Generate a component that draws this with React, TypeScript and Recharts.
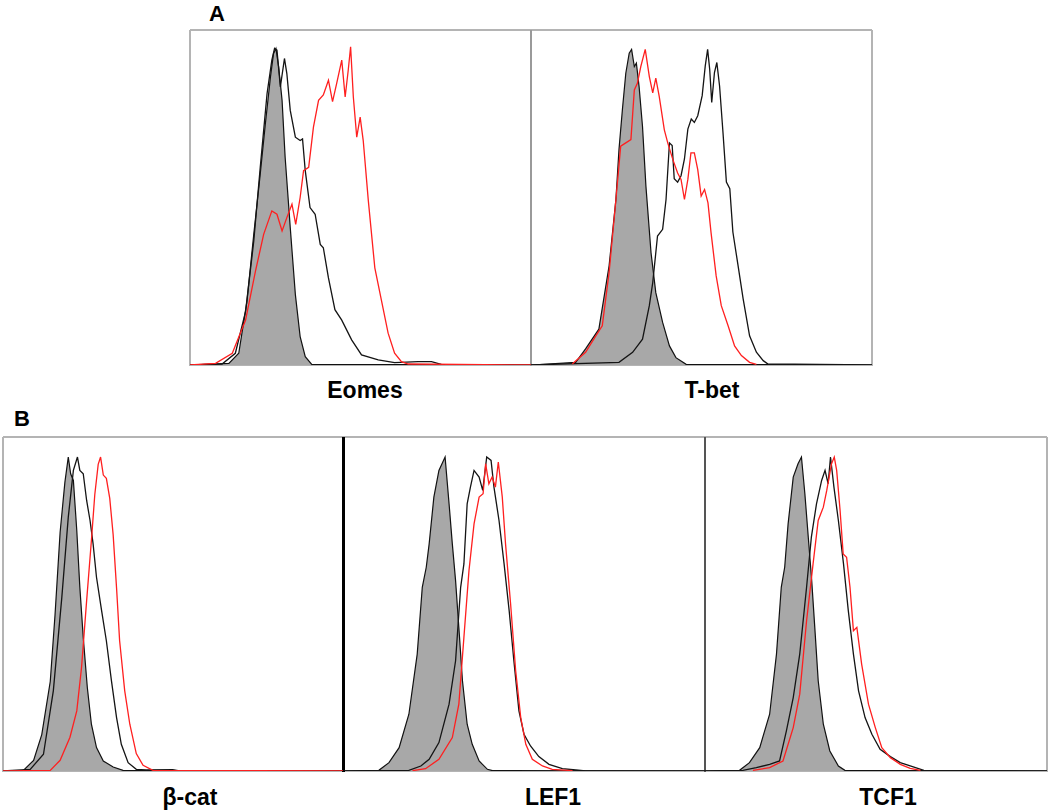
import React from 'react';
import { ComposedChart, Area, Line, XAxis, YAxis } from 'recharts';

type Pt = [number, number];

// ---- Panel A: Eomes ----
const eomesIso: Pt[] = [[11.4,0.5],[14.3,3.5],[16.7,19],[18.7,39],[20.6,57],[22.1,72],[23.6,86],[24.5,93],[25.2,94.5],[26,89],[27,79],[27.9,62],[29.4,41],[30.9,21],[32.3,8.5],[33.8,2.5],[35.7,0.2]];
const eomesBlack: Pt[] = [[9.4,0.3],[13.3,3.5],[16.3,16],[18.7,37],[20.6,59],[22.6,81],[24,91],[24.8,94.5],[25.5,94],[26.5,83],[27.7,91.5],[28.4,87],[29.4,76],[30.9,68],[32.3,67],[33,67.5],[33.8,58],[35.2,47],[36.7,45],[38.2,36],[39.1,35],[40.6,26],[42.5,16.5],[44.5,13.4],[47.4,7.5],[50.3,3],[55.2,1.5],[60,0.7],[66.9,1],[70.8,1],[73.7,0.2]];
const eomesRed: Pt[] = [[7.5,0.5],[12.4,3.5],[16.3,13.4],[19.2,28],[21.6,39],[24,46],[25.5,45],[27,40],[28.4,44],[29.9,48],[31,42],[32.3,50],[33.3,58],[34.8,59],[36.2,71],[37.7,79],[39.1,80.6],[40.6,85],[41.8,78.6],[43,84],[44.5,91],[45.5,80],[46.4,88],[47.1,95],[47.9,80],[48.9,68],[49.9,74],[50.8,67],[52.3,49],[54.2,29],[56.2,19],[58.1,9.5],[60,3.5],[62,1],[64,0.3]];

// ---- Panel A: T-bet ----
const tbetIso: Pt[] = [[13.1,0.8],[16,4.8],[19.9,10.7],[22.9,29.6],[24.9,49.4],[25.8,64.3],[26.8,76.2],[27.8,87.1],[28.8,93.1],[29.5,94.2],[30.3,89.1],[30.9,90.1],[31.7,83.1],[32.7,71.2],[33.7,53.4],[35.2,33.5],[36.6,21.6],[38.6,12.7],[40.6,5.7],[42.5,2.2],[45.5,0.2]];
const tbetBlack: Pt[] = [[25.8,0.8],[29.8,3.8],[32.7,7.7],[34.7,17.7],[35.7,24.6],[37.1,38.5],[38.6,40.5],[39.6,49.4],[40.6,66.3],[41.4,65.5],[42,55.6],[43,54.6],[44,56.5],[45,61.5],[46,70.4],[47,73.4],[47.9,72.4],[48.9,74.4],[50.2,80.4],[51.1,89.3],[51.8,94.2],[52.4,88.3],[53,78.4],[53.8,87.3],[54.5,90.3],[55.3,83.3],[56.3,69.4],[57.3,54.6],[58.3,52.6],[59.2,39.7],[60.7,29.8],[62.2,19.8],[64.1,8.7],[66.1,3.8],[68.1,1.3],[69.5,0.3]];
const tbetRed: Pt[] = [[12.1,0.3],[16,3.8],[19,8.7],[20.9,11.7],[22.9,27.6],[24.9,49.4],[26.3,65.3],[27.8,66.3],[29.3,67.3],[30.3,82.1],[31.2,84.1],[32.2,89.1],[33.5,94.2],[34.7,86.1],[35.7,81.2],[36.6,85.6],[37.6,80.2],[39.1,70.2],[40.1,66.3],[41.6,61.3],[43,57.3],[44,55.4],[45,49.4],[46,55.4],[46.9,63.3],[47.9,63.3],[48.9,58.3],[49.9,50.4],[50.9,52.4],[51.9,48.4],[52.8,39.5],[54.3,26.6],[55.8,17.7],[57.8,11.7],[59.7,5.7],[61.7,2.8],[64.1,0.8],[66.1,0.2]];

// ---- Panel B: beta-catenin ----
const bcatIso: Pt[] = [[6,0.2],[9,3.2],[11.4,10.9],[13.9,26.8],[15.3,46.7],[16.8,71.5],[18.2,86.4],[19.2,94],[19.9,89],[20.7,87],[21.7,72],[22.6,55],[23.6,40],[24.8,25],[26,14],[27.5,7],[29.5,3],[32.4,1.2],[35.3,0.2]];
const bcatBlack: Pt[] = [[8,0.5],[11.9,5],[14.8,24],[17.3,52],[19.2,76],[20.7,90],[21.9,94],[22.6,90],[23.6,89],[24.6,81],[25.6,75],[26.5,68],[27.5,58],[29,48],[30.4,39],[31.9,27],[33.4,16],[34.8,8],[36.8,2.5],[39.2,0.5],[42.1,0.3],[49.9,0.4],[51.9,0]];
const bcatRed: Pt[] = [[13.9,0.2],[16.8,3.2],[19.7,10.1],[21.7,18],[23.1,31],[24.6,51],[26,69],[27,82.8],[28,91.8],[28.7,94],[29.5,88.6],[30.4,87.6],[31.4,81.6],[32.4,70.7],[33.4,54.8],[34.3,39],[35.8,24],[37.3,14],[39.2,5.2],[41.2,1.7],[44.1,0.2]];

// ---- Panel B: LEF1 ----
const lef1Iso: Pt[] = [[9.9,0.2],[12.7,2.5],[15.5,7],[18.2,17],[20.5,35],[21.9,55],[23,61],[23.8,68],[25.1,82],[26.5,90],[28.2,94],[29.3,80],[30.2,68],[31.1,57],[32,43],[33,27],[34.3,14],[35.7,8],[37.6,3],[39.9,0.5],[41.3,0.1]];
const lef1Black: Pt[] = [[18.2,0.2],[21.5,1.5],[23.8,3.5],[26.5,8.5],[29.3,20],[31.1,33],[32.5,55],[33.4,62],[34.3,80],[35.2,85],[36.2,90],[37.6,88],[38.6,84],[39.7,94],[40.9,93],[41.7,85],[43.1,75],[44.5,62],[45.9,48],[47.2,33],[48.6,18],[50,11],[51.8,7.5],[54.1,4.3],[56.9,2],[60.6,0.7],[64.3,0.3],[67,0]];
const lef1Red: Pt[] = [[19.2,0.1],[22.8,0.7],[26.5,3.5],[30.2,10],[32,20],[33.4,40],[34.8,60],[36.2,74],[37.6,82],[38.7,83],[39.4,92],[40.3,86],[41.2,88],[42.1,85],[42.9,92.5],[44,82],[44.9,68],[46.3,50],[47.7,30],[49.1,16],[50.5,8],[52.3,3.5],[55.1,1.5],[57.8,0.5],[63.4,0.1]];

// ---- Panel B: TCF1 ----
const tcf1Iso: Pt[] = [[10.1,0.2],[13,2.5],[16,7],[18.9,17],[20.9,35],[22.3,55],[23.3,61],[24.3,74],[25.8,88],[27.2,92],[28.2,94],[29.2,83],[30.2,70],[31.2,57],[32.1,43],[33.1,27],[34.6,14],[36.5,6],[39,1.5],[40.9,0.2]];
const tcf1Black: Pt[] = [[11.1,0.2],[15,1],[18.9,2],[21.8,3],[23.8,12],[25.8,22],[27.7,35],[29.7,55],[31.1,70],[32.6,80],[34.1,87],[35.1,90],[36,86],[36.7,94],[37.7,85],[39,75],[40.5,62],[41.9,48],[43.4,35],[44.9,24],[46.8,16],[48.8,11],[51.2,6.5],[54.2,4.3],[57.1,2.5],[60,1.5],[64,0.2]];
const tcf1Red: Pt[] = [[14,0.2],[18.9,1],[22.8,3],[25.8,13],[27.7,23],[29.7,45],[31.6,62],[33.1,75],[34.6,79],[35.6,84],[37,92],[37.8,94],[38.5,90],[39.5,78],[40.4,65],[41.4,64],[42.4,55],[43.4,42],[44.4,43],[45.8,32],[47.8,20],[49.8,13],[51.7,7],[54.2,4],[57.1,2],[60,0.8],[63,0.2]];

const panelLabels = ['A', 'B'];
const markerLabels = ['Eomes', 'T-bet', 'β-cat', 'LEF1', 'TCF1'];

type Row = { x: number; [k: string]: number };

function buildRows(iso: Pt[], black: Pt[], red: Pt[], redBase: boolean): Row[] {
  const map = new Map<number, Row>();
  const add = (key: string, pts: Pt[]) => {
    for (const [x, y] of pts) {
      const row = map.get(x) ?? ({ x } as Row);
      row[key] = y;
      map.set(x, row);
    }
  };
  add('iso', [[0, 0], ...iso, [100, 0]]);
  add('black', [[0, 0], ...black, [100, 0]]);
  add('red', redBase ? [[0, 0], ...red, [100, 0]] : red);
  return Array.from(map.values()).sort((a, b) => a.x - b.x);
}

const panels = [
  { name: markerLabels[0], left: 190, top: 30, width: 341, height: 335, iso: eomesIso, black: eomesBlack, red: eomesRed, redBase: true },
  { name: markerLabels[1], left: 531, top: 30, width: 341, height: 335, iso: tbetIso, black: tbetBlack, red: tbetRed, redBase: false },
  { name: markerLabels[2], left: 3, top: 437, width: 340, height: 334, iso: bcatIso, black: bcatBlack, red: bcatRed, redBase: true },
  { name: markerLabels[3], left: 343, top: 437, width: 362, height: 334, iso: lef1Iso, black: lef1Black, red: lef1Red, redBase: false },
  { name: markerLabels[4], left: 705, top: 437, width: 342, height: 334, iso: tcf1Iso, black: tcf1Black, red: tcf1Red, redBase: false },
];

const GREY_BORDER = '#b4b4b4';

const hLines = [
  { x1: 190, x2: 872, y: 30, color: GREY_BORDER, w: 1.5 },
  { x1: 190, x2: 872, y: 365, color: GREY_BORDER, w: 1.5 },
  { x1: 3, x2: 1047, y: 437, color: GREY_BORDER, w: 1.5 },
  { x1: 3, x2: 1047, y: 771, color: GREY_BORDER, w: 1.5 },
];
const vLines = [
  { x: 190, y1: 30, y2: 366, color: GREY_BORDER, w: 1.5 },
  { x: 531, y1: 30, y2: 366, color: '#9a9a9a', w: 2 },
  { x: 872, y1: 30, y2: 366, color: GREY_BORDER, w: 1.5 },
  { x: 3, y1: 437, y2: 772, color: GREY_BORDER, w: 1.5 },
  { x: 343, y1: 437, y2: 772, color: '#000000', w: 3 },
  { x: 705, y1: 437, y2: 772, color: '#555555', w: 2 },
  { x: 1047, y1: 437, y2: 772, color: GREY_BORDER, w: 1.5 },
];

const textStyle = { fontFamily: '"Liberation Sans", Arial, sans-serif', fontWeight: 700, fill: '#000' } as const;

function Panel(p: typeof panels[number]) {
  const rows = buildRows(p.iso, p.black, p.red, p.redBase);
  return (
    <div style={{ position: 'absolute', left: p.left, top: p.top, width: p.width, height: p.height }}>
      <ComposedChart width={p.width} height={p.height} data={rows} margin={{ top: 0, right: 0, bottom: 0, left: 0 }}>
        <XAxis type="number" dataKey="x" domain={[0, 100]} hide />
        <YAxis type="number" domain={[0, 100]} hide />
        <Area type="linear" dataKey="iso" stroke="#111" strokeWidth={1.2} fill="#a8a8a8" fillOpacity={1} connectNulls isAnimationActive={false} />
        <Line type="linear" dataKey="black" stroke="#141414" strokeWidth={1.3} dot={false} connectNulls isAnimationActive={false} />
        <Line type="linear" dataKey="red" stroke="#ff1f1f" strokeWidth={1.3} dot={false} connectNulls isAnimationActive={false} />
      </ComposedChart>
    </div>
  );
}

export default function App() {
  return (
    <div style={{ position: 'absolute', left: 0, top: 0, width: 1050, height: 812, background: '#fff', overflow: 'hidden' }}>
      {hLines.map((l, i) => (
        <div key={'h' + i} style={{ position: 'absolute', left: l.x1, top: l.y - l.w / 2, width: l.x2 - l.x1, height: l.w, background: l.color }} />
      ))}
      {vLines.map((l, i) => (
        <div key={'v' + i} style={{ position: 'absolute', left: l.x - l.w / 2, top: l.y1, width: l.w, height: l.y2 - l.y1, background: l.color }} />
      ))}
      {panels.map((p) => (
        <Panel key={p.name} {...p} />
      ))}
      <svg width={1050} height={812} style={{ position: 'absolute', left: 0, top: 0, pointerEvents: 'none' }}>
        <text x={217} y={21} fontSize={22} textAnchor="middle" {...textStyle}>{panelLabels[0]}</text>
        <text x={22} y={426} fontSize={22} textAnchor="middle" {...textStyle}>{panelLabels[1]}</text>
        <text x={365} y={398} fontSize={23} textAnchor="middle" {...textStyle}>{markerLabels[0]}</text>
        <text x={712} y={398} fontSize={23} textAnchor="middle" {...textStyle}>{markerLabels[1]}</text>
        <text x={190} y={805} fontSize={23} textAnchor="middle" {...textStyle}>{markerLabels[2]}</text>
        <text x={553} y={805} fontSize={23} textAnchor="middle" {...textStyle}>{markerLabels[3]}</text>
        <text x={888} y={805} fontSize={23} textAnchor="middle" {...textStyle}>{markerLabels[4]}</text>
      </svg>
    </div>
  );
}
